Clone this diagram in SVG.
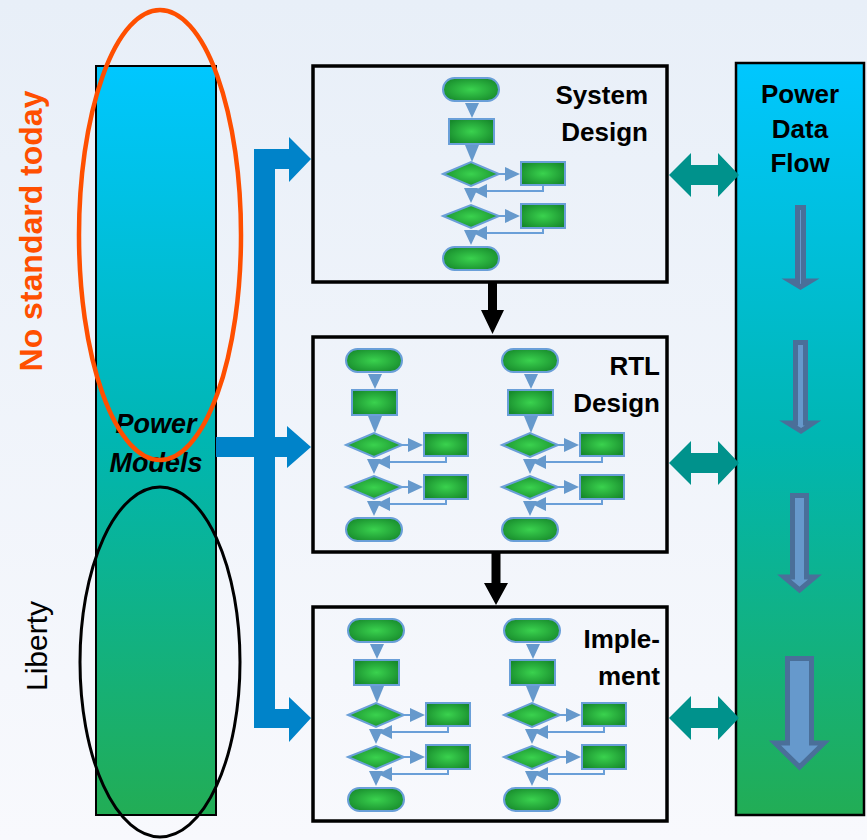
<svg xmlns="http://www.w3.org/2000/svg" xmlns:xlink="http://www.w3.org/1999/xlink" width="867" height="840" viewBox="0 0 867 840">
  <defs>
    <linearGradient id="bg" x1="0" y1="0" x2="0" y2="1">
      <stop offset="0" stop-color="#e8eff8"/>
      <stop offset="1" stop-color="#f8f9fd"/>
    </linearGradient>
    <linearGradient id="bar" x1="0" y1="0" x2="0" y2="1">
      <stop offset="0" stop-color="#00c7ff"/>
      <stop offset="0.5" stop-color="#00b6b2"/>
      <stop offset="1" stop-color="#22ad55"/>
    </linearGradient>
    <radialGradient id="green" cx="0.5" cy="0.5" r="0.6">
      <stop offset="0" stop-color="#3ad24e"/>
      <stop offset="1" stop-color="#178a2c"/>
    </radialGradient>
    <style>
      .lbl { font-family: "Liberation Sans", Arial, sans-serif; font-weight: bold; font-size: 26px; fill: #000; }
      .box { fill: none; stroke: #000; stroke-width: 3.5; }
      .shape { fill: url(#green); stroke: #6a9fd8; stroke-width: 2; }
      .head { fill: #6699cc; }
      .ret { fill: none; stroke: #6a9fd8; stroke-width: 2; }
      .dflow { fill: #6699cc; stroke: #4a6f99; stroke-width: 5; stroke-linejoin: miter; }
      .teal { fill: #00928c; }
    </style>
    <!-- small flowchart drawn inside each design stage -->
    <g id="flowchart">
      <rect class="shape" x="0" y="0" width="56" height="23" rx="11.5"/>
      <polygon class="head" points="22,25 36,25 29,40"/>
      <rect class="shape" x="6" y="41" width="45" height="25"/>
      <polygon class="head" points="22,67 36,67 29,84"/>
      <polygon class="shape" points="0,96 28,84 56,96 28,108"/>
      <line class="ret" x1="56" y1="96" x2="63" y2="96"/>
      <polygon class="head" points="62,89 62,103 77,96"/>
      <rect class="shape" x="78" y="84" width="44" height="23"/>
      <polyline class="ret" points="100,107 100,113 44,113"/>
      <polygon class="head" points="44,106 44,120 30,113"/>
      <polygon class="head" points="21,110 35,110 28,125"/>
      <polygon class="shape" points="0,138 28,127 56,138 28,150"/>
      <line class="ret" x1="56" y1="138" x2="63" y2="138"/>
      <polygon class="head" points="62,131 62,145 77,138"/>
      <rect class="shape" x="78" y="126" width="44" height="24"/>
      <polyline class="ret" points="100,150 100,155 44,155"/>
      <polygon class="head" points="44,148 44,162 30,155"/>
      <polygon class="head" points="21,152 35,152 28,167"/>
      <rect class="shape" x="0" y="169" width="56" height="23" rx="11.5"/>
    </g>
  </defs>

  <rect x="0" y="0" width="867" height="840" fill="url(#bg)"/>

  <!-- side annotations -->
  <text x="42" y="231" transform="rotate(-90 42 231)" text-anchor="middle" font-family="Liberation Sans, Arial, sans-serif" font-weight="bold" font-size="32" fill="#ff4f00">No standard today</text>
  <text x="47" y="646" transform="rotate(-90 47 646)" text-anchor="middle" font-family="Liberation Sans, Arial, sans-serif" font-size="30" fill="#000">Liberty</text>

  <!-- power models column -->
  <g id="power-models">
    <rect x="96" y="66" width="120" height="749" fill="url(#bar)" stroke="#000" stroke-width="2"/>
    <text x="156" y="433" text-anchor="middle" font-family="Liberation Sans, Arial, sans-serif" font-weight="bold" font-style="italic" font-size="27" fill="#000">Power</text>
    <text x="156" y="472" text-anchor="middle" font-family="Liberation Sans, Arial, sans-serif" font-weight="bold" font-style="italic" font-size="27" fill="#000">Models</text>
  </g>

  <!-- highlight ellipses -->
  <ellipse cx="160" cy="235" rx="81" ry="225" fill="none" stroke="#ff4f00" stroke-width="4.5"/>
  <ellipse cx="160" cy="662" rx="80" ry="175" fill="none" stroke="#000" stroke-width="3"/>

  <!-- power data flow column -->
  <g id="power-data-flow">
    <rect x="736" y="63" width="128" height="752" fill="url(#bar)" stroke="#000" stroke-width="2.5"/>
    <text class="lbl" x="800" y="103" text-anchor="middle" font-size="24">Power</text>
    <text class="lbl" x="800" y="138" text-anchor="middle" font-size="24">Data</text>
    <text class="lbl" x="800" y="172" text-anchor="middle" font-size="24">Flow</text>
    <polygon class="dflow" points="797.5,207.5 803.5,207.5 803.5,281 810.5,281 800.5,287 790.5,281 797.5,281"/>
    <polygon class="dflow" points="795.5,342.5 805.5,342.5 805.5,423 813,423 801,431 788,423 795.5,423"/>
    <polygon class="dflow" points="792.5,495.5 806.5,495.5 806.5,577 815,577 799.5,590 784,577 792.5,577"/>
    <polygon class="dflow" points="787.5,658.5 811.5,658.5 811.5,743 824,743 799.5,767 775,743 787.5,743"/>
  </g>

  <!-- design stages -->
  <g id="system-design">
    <rect class="box" x="313" y="66" width="354" height="216"/>
    <use xlink:href="#flowchart" x="443" y="78"/>
    <text class="lbl" x="648" y="104" text-anchor="end">System</text>
    <text class="lbl" x="648" y="141" text-anchor="end">Design</text>
  </g>
  <g id="rtl-design">
    <rect class="box" x="313" y="337" width="354" height="215"/>
    <use xlink:href="#flowchart" x="346" y="349"/>
    <use xlink:href="#flowchart" x="502" y="349"/>
    <text class="lbl" x="660" y="375" text-anchor="end">RTL</text>
    <text class="lbl" x="660" y="412" text-anchor="end">Design</text>
  </g>
  <g id="implement">
    <rect class="box" x="313" y="607" width="354" height="214"/>
    <use xlink:href="#flowchart" x="348" y="619"/>
    <use xlink:href="#flowchart" x="504" y="619"/>
    <text class="lbl" x="660" y="648" text-anchor="end">Imple-</text>
    <text class="lbl" x="660" y="685" text-anchor="end">ment</text>
  </g>

  <!-- connectors -->
  <g id="connectors">
    <!-- model distribution bus -->
    <path fill="#0083c9" d="M254,149 L289,149 L289,137 L311,159 L289,182 L289,169 L275,169 L275,437 L287,437 L287,426 L311,447 L287,468 L287,457 L275,457 L275,709 L289,709 L289,697 L311,718 L289,742 L289,728 L254,728 L254,457 L216,457 L216,437 L254,437 Z"/>
    <!-- stage to stage -->
    <path fill="#000" d="M488,283 L497,283 L497,310 L504,310 L492.5,334 L481,310 L488,310 Z"/>
    <path fill="#000" d="M491.5,553 L500.5,553 L500.5,583 L508,583 L496,605 L484,583 L491.5,583 Z"/>
    <!-- stage to data flow -->
    <polygon class="teal" points="669,175 691,153 691,165 718,165 718,153 739,175 718,197 718,185 691,185 691,197"/>
    <polygon class="teal" points="669,463 691,441 691,453 718,453 718,441 739,463 718,485 718,473 691,473 691,485"/>
    <polygon class="teal" points="669,718 691,696 691,708 718,708 718,696 739,718 718,740 718,728 691,728 691,740"/>
  </g>
</svg>
